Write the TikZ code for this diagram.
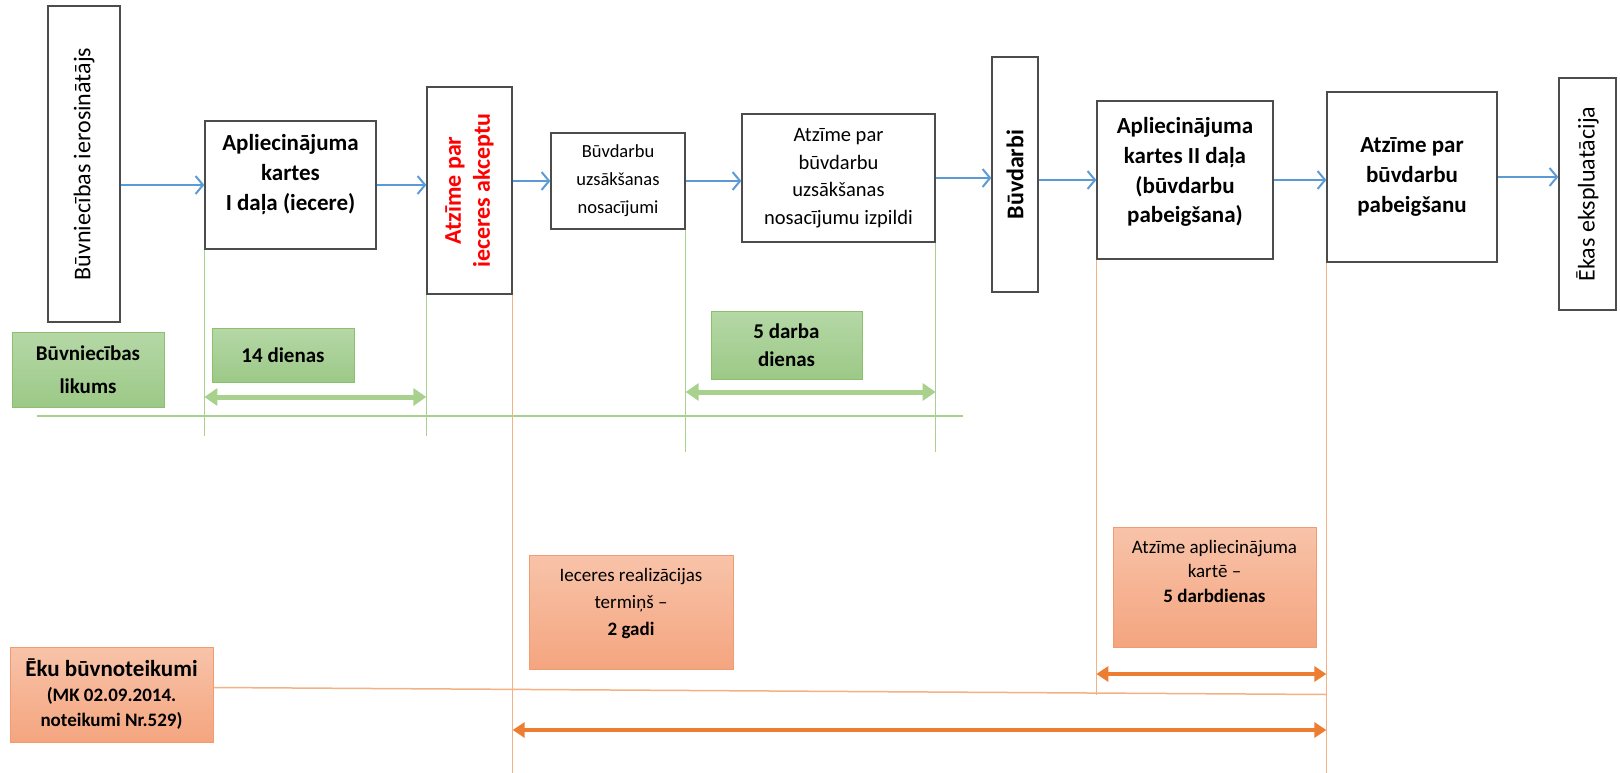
\documentclass[tikz,border=0pt]{standalone}
\usepackage{fontspec}
\setmainfont{Carlito}
\usepackage{xcolor}
\usepackage{tikz}
\usetikzlibrary{arrows.meta}

\definecolor{flowblue}{HTML}{5B9BD5}
\definecolor{greenline}{HTML}{A9D18E}
\definecolor{greentop}{HTML}{B5D8A6}
\definecolor{greenbottom}{HTML}{9CC987}
\definecolor{greenedge}{HTML}{8DC06E}
\definecolor{orangeline}{HTML}{F4B183}
\definecolor{orangetop}{HTML}{F8C3A9}
\definecolor{orangebottom}{HTML}{F4A57F}
\definecolor{orangeedge}{HTML}{F29B70}
\definecolor{orangearrow}{HTML}{ED7D31}

\tikzset{
    stage/.style={draw=black!70, line width=1.3pt, fill=white, inner sep=0pt, align=center},
    lawbox/.style={draw=greenedge, line width=1pt, top color=greentop, bottom color=greenbottom, inner sep=0pt, align=center, font=\bfseries\fontsize{21}{28}\selectfont},
    rulebox/.style={draw=orangeedge, line width=1pt, top color=orangetop, bottom color=orangebottom, inner sep=0pt, align=center, font=\fontsize{19}{25}\selectfont},
    flow/.style={draw=flowblue, line width=2pt, -{Straight Barb[length=7.5pt,width=18pt]}},
    greenmark/.style={draw=greenline, line width=1.3pt},
    orangemark/.style={draw=orangeline, line width=1.5pt},
    greenspan/.style={draw=greenline, line width=5pt, {Triangle[length=13pt,width=17pt]}-{Triangle[length=13pt,width=17pt]}},
    orangespan/.style={draw=orangearrow, line width=4pt, {Triangle[length=12pt,width=15pt]}-{Triangle[length=12pt,width=15pt]}}
}

\begin{document}
\begin{tikzpicture}[x=1pt, y=-1pt]
        \useasboundingbox (0,0) rectangle (1620,773);
        % stages of the process
        \node[stage, minimum width=72pt, minimum height=316pt, font=\fontsize{24}{29}\selectfont] (Initiator) at (84,164) {\rotatebox{90}{Būvniecības ierosinātājs}};
        \node[stage, minimum width=171pt, minimum height=128pt, font=\bfseries\fontsize{23}{30}\selectfont] (CardOne) at (290.5,185) {\raisebox{11pt}[\height][\depth]{\begin{tabular}{@{}c@{}}Apliecinājuma\\kartes\\I daļa (iecere)\end{tabular}}};
        \node[stage, minimum width=85pt, minimum height=207pt, text=red, font=\bfseries\fontsize{24}{29}\selectfont] (Accept) at (469.5,190.5) {\rotatebox{90}{\begin{tabular}{@{}c@{}}Atzīme par\\ieceres akceptu\end{tabular}}};
        \node[stage, minimum width=134pt, minimum height=96pt, font=\fontsize{18.5}{28}\selectfont] (Conditions) at (618,181) {Būvdarbu\\uzsākšanas\\nosacījumi};
        \node[stage, minimum width=193pt, minimum height=128pt, font=\fontsize{20.5}{27.5}\selectfont] (ConditionsDone) at (838.5,178) {Atzīme par\\būvdarbu\\uzsākšanas\\nosacījumu izpildi};
        \node[stage, minimum width=46pt, minimum height=235pt, font=\bfseries\fontsize{24}{29}\selectfont] (Works) at (1015,174.5) {\rotatebox{90}{Būvdarbi}};
        \node[stage, minimum width=176pt, minimum height=158pt, font=\bfseries\fontsize{23}{30}\selectfont] (CardTwo) at (1185,180) {\raisebox{8pt}[\height][\depth]{\begin{tabular}{@{}c@{}}Apliecinājuma\\kartes II daļa\\(būvdarbu\\pabeigšana)\end{tabular}}};
        \node[stage, minimum width=170pt, minimum height=170pt, font=\bfseries\fontsize{23}{30}\selectfont] (Completion) at (1412,177) {Atzīme par\\būvdarbu\\pabeigšanu};
        \node[stage, minimum width=57pt, minimum height=232pt, font=\fontsize{24}{29}\selectfont] (Operation) at (1587.5,194) {\rotatebox{90}{Ēkas ekspluatācija}};

        \draw[flow] (Initiator.east |- CardOne.west) -- (CardOne.west);
        \draw[flow] (CardOne.east) -- (Accept.west |- CardOne.east);
        \draw[flow] (Accept.east |- Conditions.west) -- (Conditions.west);
        \draw[flow] (Conditions.east) -- (ConditionsDone.west |- Conditions.east);
        \draw[flow] (ConditionsDone.east) -- (Works.west |- ConditionsDone.east);
        \draw[flow] (Works.east |- CardTwo.west) -- (CardTwo.west);
        \draw[flow] (CardTwo.east) -- (Completion.west |- CardTwo.east);
        \draw[flow] (Completion.east) -- (Operation.west |- Completion.east);

        % Buvniecibas likums
        \node[lawbox, minimum width=152pt, minimum height=75pt, font=\bfseries\fontsize{21}{33}\selectfont] (Law) at (88,369.5) {Būvniecības\\likums};
        \node[lawbox, minimum width=142pt, minimum height=54pt] (Days14) at (283,355) {14 dienas};
        \node[lawbox, minimum width=151pt, minimum height=68pt] (Days5) at (786.5,345) {5 darba\\dienas};
        \coordinate (GreenStart) at (37,416);
        \coordinate (GreenEnd) at (963,416);
        \coordinate (GreenLow) at (0,436);
        \coordinate (GreenLower) at (0,452);
        \coordinate (SpanOne) at (0,397);
        \coordinate (SpanTwo) at (0,392);
        \draw[greenmark] (GreenStart) -- (GreenEnd);
        \draw[greenmark] (CardOne.south west) -- (CardOne.south west |- GreenLow);
        \draw[greenmark] (Accept.south west) -- (Accept.south west |- GreenLow);
        \draw[greenmark] (Conditions.south east) -- (Conditions.south east |- GreenLower);
        \draw[greenmark] (ConditionsDone.south east) -- (ConditionsDone.south east |- GreenLower);
        \draw[greenspan] (CardOne.west |- SpanOne) -- (Accept.west |- SpanOne);
        \draw[greenspan] (Conditions.east |- SpanTwo) -- (ConditionsDone.east |- SpanTwo);

        % Eku buvnoteikumi
        \node[rulebox, minimum width=203pt, minimum height=95pt, font=\bfseries\fontsize{19}{25}\selectfont] (Rules) at (111.5,694.5) {{\fontsize{23}{25}\selectfont Ēku būvnoteikumi}\\(MK 02.09.2014.\\noteikumi Nr.529)};
        \node[rulebox, minimum width=204pt, minimum height=114pt, font=\fontsize{19}{27}\selectfont] (Term) at (631,612) {\raisebox{9pt}[\height][\depth]{\begin{tabular}{@{}c@{}}Ieceres realizācijas\\termiņš –\\\textbf{2 gadi}\end{tabular}}};
        \node[rulebox, minimum width=203pt, minimum height=120pt, font=\fontsize{19}{24.5}\selectfont] (Mark) at (1214.5,587) {\raisebox{14pt}[\height][\depth]{\begin{tabular}{@{}c@{}}Atzīme apliecinājuma\\kartē –\\\textbf{5 darbdienas}\end{tabular}}};
        \coordinate (Bottom) at (0,773);
        \coordinate (SpanThree) at (0,674);
        \coordinate (SpanFour) at (0,730);
        \draw[orangemark] (Accept.south east) -- (Accept.south east |- Bottom);
        \draw[orangemark] (CardTwo.south west) -- (CardTwo.south west |- Rules.east);
        \draw[orangemark] (Completion.south west) -- (Completion.south west |- Bottom);
        \draw[orangemark] ([yshift=7pt]Rules.east) -- (Completion.south west |- Rules.east);
        \draw[orangespan] (CardTwo.west |- SpanThree) -- (Completion.west |- SpanThree);
        \draw[orangespan] (Accept.east |- SpanFour) -- (Completion.west |- SpanFour);
    \end{tikzpicture}
\end{document}
